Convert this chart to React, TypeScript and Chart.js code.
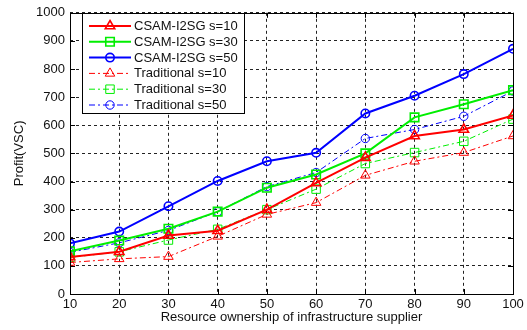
import React, { useEffect, useRef } from "react";
import { Chart, registerables } from "chart.js";

Chart.register(...registerables);

const xValues = [10, 20, 30, 40, 50, 60, 70, 80, 90, 100];
const csam10 = [132, 150, 208, 225, 300, 395, 485, 562, 585, 635];
const csam30 = [152, 190, 232, 293, 378, 425, 500, 628, 675, 725];
const csam50 = [180, 222, 312, 402, 472, 502, 642, 705, 782, 872];
const trad10 = [112, 125, 133, 205, 283, 325, 422, 472, 503, 562];
const trad30 = [130, 150, 192, 230, 300, 373, 464, 503, 543, 622];
const trad50 = [148, 182, 226, 293, 382, 432, 553, 585, 632, 722];

const seriesLabels = [
  "CSAM-I2SG s=10",
  "CSAM-I2SG s=30",
  "CSAM-I2SG s=50",
  "Traditional s=10",
  "Traditional s=30",
  "Traditional s=50",
];
const xTitle = "Resource ownership of infrastructure supplier";
const yTitle = "Profit(VSC)";

const FONT = "'Liberation Sans', Arial, sans-serif";
const FS = 13;
const RED = "#ff0000";
const GREEN = "#00ee00";
const BLUE = "#0000ff";
const DASH = [6, 3, 2, 3];

function drawMarker(ctx: CanvasRenderingContext2D, style: string, x: number, y: number, r: number) {
  ctx.beginPath();
  if (style === "circle") {
    ctx.arc(x, y, r, 0, Math.PI * 2);
  } else if (style === "rect") {
    const s = Math.SQRT1_2 * r;
    ctx.rect(x - s, y - s, 2 * s, 2 * s);
  } else if (style === "triangle") {
    const t = (2 * Math.PI) / 3;
    ctx.moveTo(x, y - r);
    ctx.lineTo(x + Math.sin(t) * r, y - Math.cos(t) * r);
    ctx.lineTo(x + Math.sin(2 * t) * r, y - Math.cos(2 * t) * r);
    ctx.closePath();
  }
  ctx.stroke();
}

const framePlugin = {
  id: "matlabFrame",
  afterDatasetsDraw(chart: any) {
    const { ctx, chartArea: a, scales } = chart;
    const xs = scales.x;
    const ys = scales.y;
    ctx.save();
    ctx.setLineDash([]);
    ctx.strokeStyle = "#000";
    ctx.lineWidth = 1;
    ctx.beginPath();
    xs.ticks.forEach((t: any) => {
      const px = Math.round(xs.getPixelForValue(t.value)) + 0.5;
      ctx.moveTo(px, a.bottom);
      ctx.lineTo(px, a.bottom - 5);
      ctx.moveTo(px, a.top);
      ctx.lineTo(px, a.top + 5);
    });
    ys.ticks.forEach((t: any) => {
      const py = Math.round(ys.getPixelForValue(t.value)) + 0.5;
      ctx.moveTo(a.left, py);
      ctx.lineTo(a.left + 5, py);
      ctx.moveTo(a.right, py);
      ctx.lineTo(a.right - 5, py);
    });
    ctx.stroke();
    ctx.strokeRect(Math.round(a.left) + 0.5, Math.round(a.top) + 0.5, Math.round(a.right - a.left), Math.round(a.bottom - a.top));
    ctx.restore();
  },
};

const legendPlugin = {
  id: "matlabLegend",
  afterDraw(chart: any) {
    const { ctx } = chart;
    const box = { x: 82, y: 13, w: 162, h: 100 };
    ctx.save();
    ctx.setLineDash([]);
    ctx.fillStyle = "#fff";
    ctx.fillRect(box.x, box.y, box.w, box.h);
    ctx.strokeStyle = "#000";
    ctx.lineWidth = 1;
    ctx.strokeRect(box.x + 0.5, box.y + 0.5, box.w, box.h);
    chart.data.datasets.forEach((ds: any, i: number) => {
      const cy = box.y + 13 + i * 15.8;
      ctx.strokeStyle = ds.borderColor;
      ctx.lineWidth = ds.borderWidth;
      ctx.setLineDash(ds.borderDash || []);
      ctx.beginPath();
      ctx.moveTo(89, cy);
      ctx.lineTo(131, cy);
      ctx.stroke();
      ctx.setLineDash([]);
      ctx.lineWidth = ds.pointBorderWidth;
      drawMarker(ctx, ds.pointStyle, 110, cy, ds.pointRadius);
      ctx.fillStyle = "#111";
      ctx.font = `${FS}px ${FONT}`;
      ctx.textBaseline = "middle";
      ctx.textAlign = "left";
      ctx.fillText(ds.label, 134, cy + 0.5);
    });
    ctx.restore();
  },
};

function makeDataset(label: string, data: number[], color: string, style: string, solid: boolean) {
  const radius = style === "rect" ? 6 : style === "triangle" ? 5.5 : 4.2;
  return {
    label,
    data: xValues.map((x, i) => ({ x, y: data[i] })),
    borderColor: color,
    backgroundColor: color,
    borderWidth: solid ? 2 : 1,
    borderDash: solid ? [] : DASH,
    pointStyle: style,
    pointRadius: radius,
    pointHoverRadius: radius,
    pointBorderColor: color,
    pointBackgroundColor: "rgba(0,0,0,0)",
    pointBorderWidth: solid ? 1.6 : 1,
    tension: 0,
    fill: false,
  };
}

export default function App() {
  const ref = useRef<HTMLCanvasElement | null>(null);
  useEffect(() => {
    if (!ref.current) return;
    const chart = new Chart(ref.current, {
      type: "line",
      data: {
        datasets: [
          makeDataset(seriesLabels[0], csam10, RED, "triangle", true),
          makeDataset(seriesLabels[1], csam30, GREEN, "rect", true),
          makeDataset(seriesLabels[2], csam50, BLUE, "circle", true),
          makeDataset(seriesLabels[3], trad10, RED, "triangle", false),
          makeDataset(seriesLabels[4], trad30, GREEN, "rect", false),
          makeDataset(seriesLabels[5], trad50, BLUE, "circle", false),
        ] as any,
      },
      options: {
        responsive: false,
        animation: false,
        devicePixelRatio: 1,
        layout: { padding: { top: 11, right: 14, left: 0, bottom: 0 } },
        plugins: { legend: { display: false }, tooltip: { enabled: false } },
        scales: {
          x: {
            type: "linear",
            min: 10,
            max: 100,
            afterFit: (s: any) => {
              s.height = 36;
            },
            ticks: {
              stepSize: 10,
              padding: 3,
              color: "#111",
              font: { family: FONT, size: FS },
              callback: (v: any) => String(v),
            },
            grid: { color: "#222", lineWidth: 1, drawTicks: false },
            border: { display: false, dash: [3, 3] },
            title: {
              display: true,
              text: xTitle,
              color: "#111",
              font: { family: FONT, size: FS },
              padding: { top: 0, bottom: 5 },
            },
          },
          y: {
            type: "linear",
            min: 0,
            max: 1000,
            afterFit: (s: any) => {
              s.width = 70;
            },
            ticks: {
              stepSize: 100,
              padding: 5,
              color: "#111",
              font: { family: FONT, size: FS },
              callback: (v: any) => String(v),
            },
            grid: { color: "#222", lineWidth: 1, drawTicks: false },
            border: { display: false, dash: [3, 3] },
            title: {
              display: true,
              text: yTitle,
              color: "#111",
              font: { family: FONT, size: FS },
              padding: { top: 12, bottom: 0 },
            },
          },
        },
      } as any,
      plugins: [framePlugin, legendPlugin],
    });
    return () => chart.destroy();
  }, []);
  return (
    <div style={{ position: "fixed", left: 0, top: 0, width: 527, height: 330, background: "#fff" }}>
      <canvas ref={ref} width={527} height={330} style={{ display: "block" }} />
    </div>
  );
}
